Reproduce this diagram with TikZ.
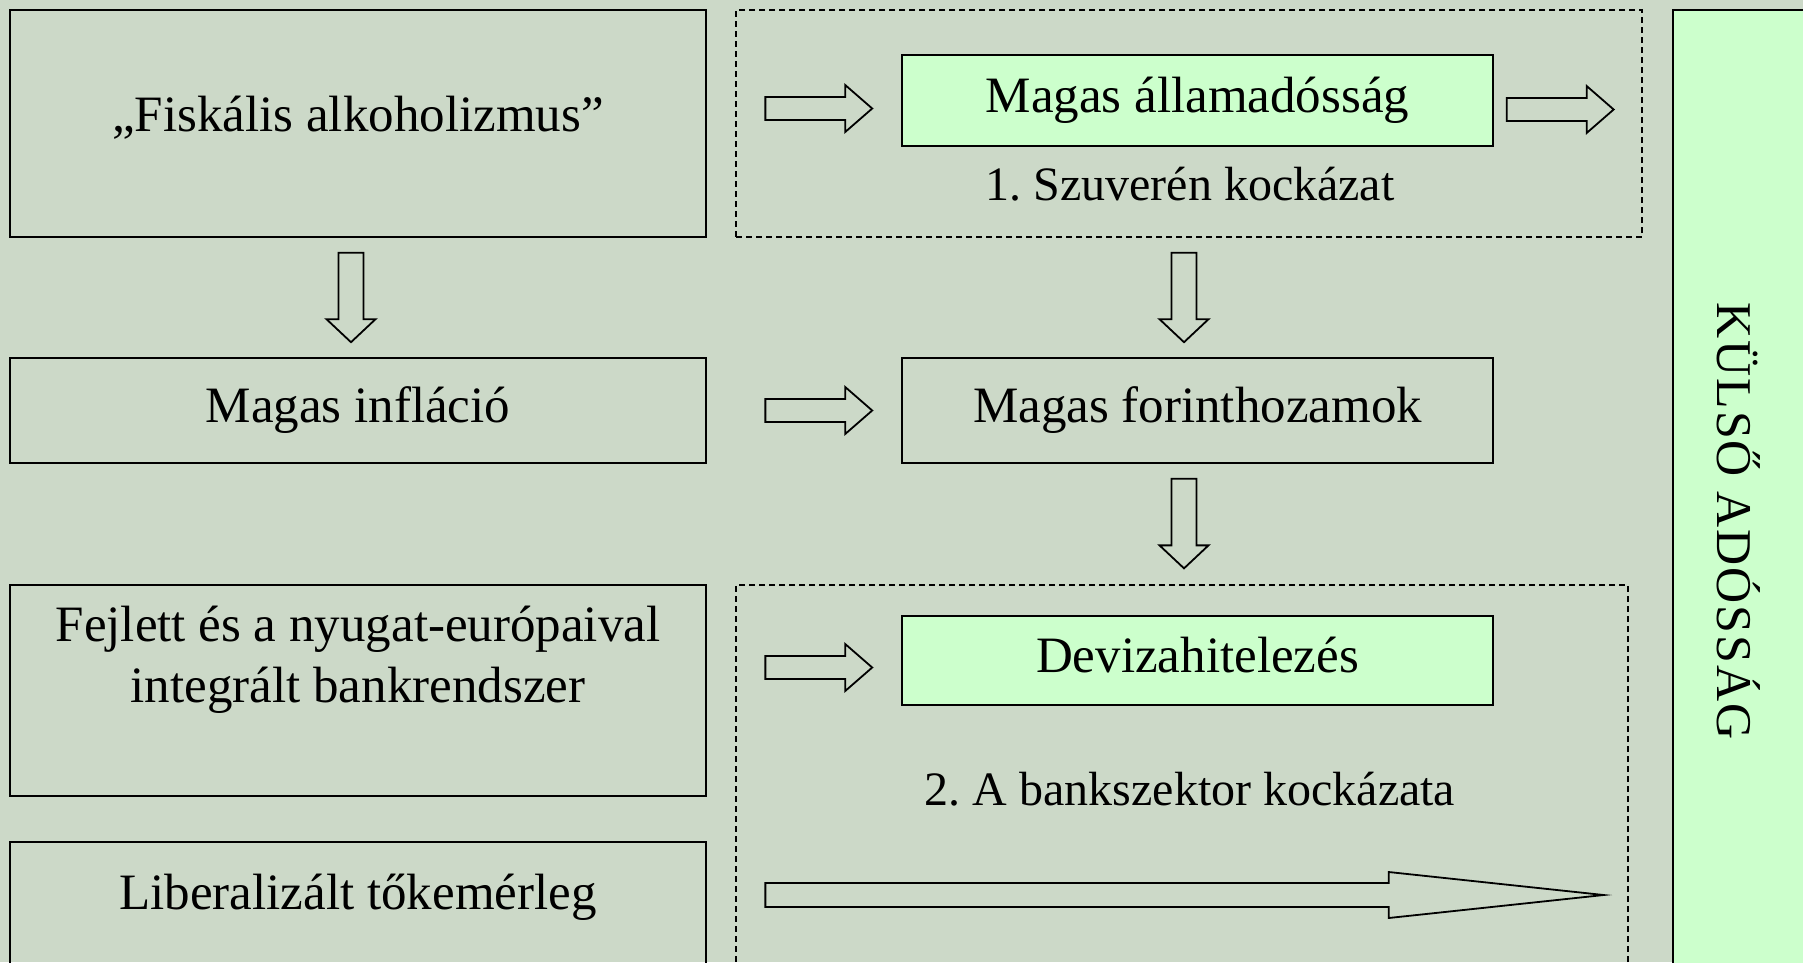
\documentclass[tikz,border=0pt]{standalone}
\usepackage{fontspec}
\setmainfont{Liberation Serif}
\usetikzlibrary{calc}
\definecolor{slideBg}{RGB}{204,217,200}
\definecolor{paleGreen}{RGB}{204,255,204}
\frenchspacing
% hollow block arrow: start, end, shaft half-width, head half-width, head length
\newcommand{\blockarrow}[5]{%
  \coordinate (hb) at ($(#2)!#5!(#1)$);
  \draw[hollowArrow] ($(#1)!#3!90:(#2)$) -- ($(hb)!#3!90:(#2)$) -- ($(hb)!#4!90:(#2)$)
    -- (#2) -- ($(hb)!#4!-90:(#2)$) -- ($(hb)!#3!-90:(#2)$) -- ($(#1)!#3!-90:(#2)$) -- cycle;}
\begin{document}
\begin{tikzpicture}
[x=1pt,y=1pt,
  boxText/.style={font=\fontsize{51}{61}\selectfont,align=center},
  riskText/.style={font=\fontsize{48}{58}\selectfont},
  causeBox/.style={draw,line width=1.6pt,boxText,minimum width=696pt,inner sep=0pt},
  greenBox/.style={draw,line width=1.6pt,fill=paleGreen,boxText,minimum width=591pt,inner sep=0pt},
  riskFrame/.style={draw,line width=1.3pt,dash pattern=on 6pt off 4pt,inner sep=0pt},
  hollowArrow/.style={line width=1.8pt,line join=miter}]
\useasboundingbox (0,0) rectangle (1803,-962);
\fill[slideBg] (0,0) rectangle (1803,-962);
%% dashed risk frames
\node[riskFrame,minimum width=906pt,minimum height=227pt] (risk1) at (1189,-123.5) {};
\node[riskFrame,minimum width=892pt,minimum height=415pt] (risk2) at (1182,-792.5) {};
\node[riskText] (sovRisk) at (1190,-184) {1. Szuverén kockázat};
\node[riskText] (bankRisk) at (1190,-789) {2. A bankszektor kockázata};
%% left column
\node[causeBox,minimum height=227pt,
  label={[boxText,yshift=6pt]center:„Fiskális alkoholizmus”}] (fiscal) at (358,-123.5) {};
\node[causeBox,minimum height=105pt] (infl) at (358,-410.5) {Magas infláció};
\node[causeBox,minimum height=211pt,
  label={[boxText,yshift=31pt]center:Fejlett és a nyugat-európaival\\integrált bankrendszer}] (banks) at (358,-690.5) {};
\node[causeBox,minimum height=148pt,
  label={[boxText,yshift=19pt]center:Liberalizált tőkemérleg}] (capital) at (358,-916) {};
%% middle column
\node[greenBox,minimum height=91pt] (debt) at (1197.5,-100.5) {Magas államadósság};
\node[causeBox,minimum width=591pt,minimum height=105pt] (yields) at (1197.5,-410.5) {Magas forinthozamok};
\node[greenBox,minimum height=89pt,
  label={[boxText,yshift=5pt]center:Devizahitelezés}] (fxloan) at (1197.5,-660.5) {};
%% right column
\node[draw,line width=1.6pt,fill=paleGreen,rotate=-90,minimum width=1022pt,minimum height=132pt,
  font=\fontsize{50}{54}\selectfont\addfontfeatures{LetterSpace=4}] (extDebt) at (1739,-521) {KÜLSŐ ADÓSSÁG};
%% arrow ends
\coordinate (a1s) at ($(risk1.west |- debt.west)+(30,-8)$);
\coordinate (a1e) at ($(debt.west)+(-29,-8)$);
\coordinate (a2s) at ($(debt.east)+(13,-9)$);
\coordinate (a2e) at ($(risk1.east |- debt.east)+(-29,-9)$);
\coordinate (a3s) at ($(risk1.west |- infl.east)+(30,0)$);
\coordinate (a3e) at ($(yields.west)+(-29,0)$);
\coordinate (a4s) at ($(risk2.west |- fxloan.west)+(30,-7)$);
\coordinate (a4e) at ($(fxloan.west)+(-29,-7)$);
\coordinate (d1s) at ($(fiscal.south)+(-7,-15)$);
\coordinate (d1e) at ($(infl.north)+(-7,15)$);
\coordinate (d2s) at ($(risk1.south)+(-5,-15)$);
\coordinate (d2e) at ($(yields.north)+(-13.5,15)$);
\coordinate (d3s) at ($(yields.south)+(-13.5,-15)$);
\coordinate (d3e) at ($(risk2.north)+(2,16)$);
\coordinate (l1s) at ($(risk2.west |- capital.center)+(30,21)$);
\coordinate (l1e) at ($(risk2.east |- capital.center)+(-25,21)$);
%% block arrows
\foreach \s/\e in {a1s/a1e, a2s/a2e, a3s/a3e, a4s/a4e}
  \blockarrow{\s}{\e}{11.5pt}{23.5pt}{27pt};
\foreach \s/\e in {d1s/d1e, d2s/d2e, d3s/d3e}
  \blockarrow{\s}{\e}{12.5pt}{24.5pt}{23pt};
\blockarrow{l1s}{l1e}{12pt}{23pt}{215pt};
\end{tikzpicture}
\end{document}
